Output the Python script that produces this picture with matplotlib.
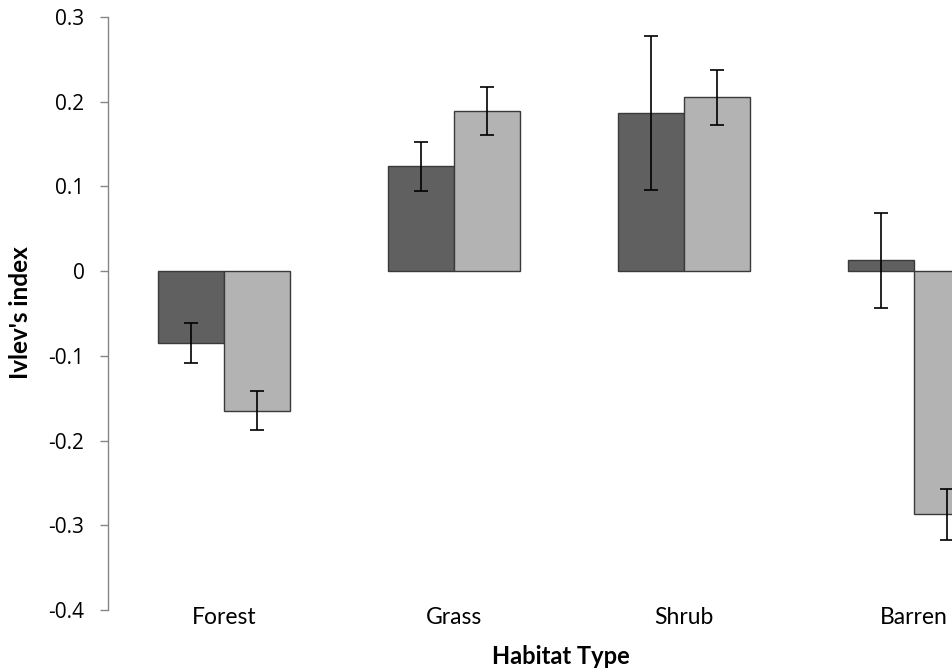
import matplotlib
matplotlib.use("Agg")
import matplotlib.pyplot as plt
import numpy as np

categories = ["Forest", "Grass", "Shrub", "Barren"]
series1 = [-0.085, 0.124, 0.187, 0.013]
series1_err = [0.024, 0.029, 0.091, 0.056]
series2 = [-0.165, 0.189, 0.205, -0.287]
series2_err = [0.023, 0.028, 0.032, 0.030]
yticks = [-0.4, -0.3, -0.2, -0.1, 0, 0.1, 0.2, 0.3]
ytick_labels = ["-0.4", "-0.3", "-0.2", "-0.1", "0", "0.1", "0.2", "0.3"]

W, H = 953, 672
fig = plt.figure(figsize=(W / 100, H / 100), dpi=100)
left, right = 108 / W, 1029 / W
bottom, top = 1 - 610 / H, 1 - 17 / H
ax = fig.add_axes([left, bottom, right - left, top - bottom])

x = np.arange(len(categories))
bw = 0.287
ax.bar(x - bw / 2, series1, width=bw, color="#606060", edgecolor="#3a3a3a", linewidth=1.0,
       yerr=series1_err, error_kw=dict(ecolor="black", elinewidth=1.2, capsize=5, capthick=1.2))
ax.bar(x + bw / 2, series2, width=bw, color="#b3b3b3", edgecolor="#3a3a3a", linewidth=1.0,
       yerr=series2_err, error_kw=dict(ecolor="black", elinewidth=1.2, capsize=5, capthick=1.2))

ax.set_xlim(-0.504, 3.5)
ax.set_ylim(-0.4, 0.3)
ax.set_yticks(yticks)
ax.set_yticklabels(ytick_labels, fontsize=15, family="Open Sans")
ax.set_xticks(x)
ax.set_xticklabels(categories, fontsize=16.5, family="Lato")
ax.tick_params(axis="x", length=0, pad=-2)
ax.tick_params(axis="y", direction="out", length=6, width=1, color="#868686", pad=11)
for s in ["top", "right", "bottom"]:
    ax.spines[s].set_visible(False)
ax.spines["left"].set_color("#868686")
ax.spines["left"].set_linewidth(1)

fig.text(561 / W, 1 - 657 / H, "Habitat Type", ha="center", va="center",
         fontsize=17, fontweight="bold", family="Lato")
fig.text(21 / W, 1 - 313 / H, "Ivlev's index", ha="center", va="center",
         rotation=90, fontsize=17.5, fontweight="bold", family="Lato")

fig.savefig("out.png", dpi=100)
